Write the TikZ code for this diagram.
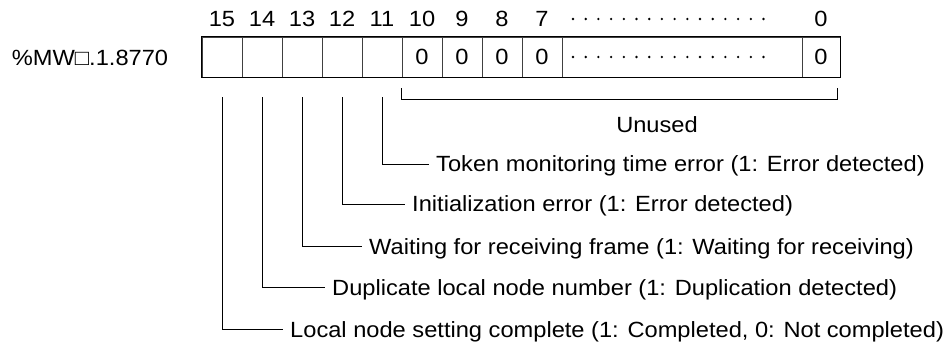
\documentclass[tikz,border=0pt]{standalone}
\usepackage{fontspec}
\setmainfont{Liberation Sans}[FakeStretch=1.075]
\begin{document}
\begin{tikzpicture}[x=1pt,y=-1pt,
  font=\fontsize{22}{26}\selectfont,
  cell/.style={draw=black!75, line width=0.6pt, minimum width=40pt,
    minimum height=40pt, inner sep=0pt, anchor=center},
  frame/.style={draw=black, line width=1pt},
  lead/.style={line width=1pt, line join=miter},
  bitno/.style={inner sep=0pt},
  desc/.style={anchor=west, inner sep=0pt, text height=15.7pt, text depth=0pt},
  ]
\useasboundingbox (0,0) rectangle (949,345);

% register name
\node[bitno] (reg) at (90,58) {\%MW□.1.8770};

% bit cells 15..7
\foreach \b [count=\i from 0] in {15,14,13,12,11,10,9,8,7}{
  \node[cell] (c\b) at (222+40*\i,57) {\ifnum\b<11 0\fi};
  \node[bitno] (n\b) at (222+40*\i,19) {\b};
}
\node[cell, minimum width=240pt] (cdots) at (682,57) {};
\node[cell, minimum width=38pt] (c0) at (821,57) {0};
\node[bitno] (n0) at (821,19) {0};

% outer frame
\draw[frame] (c15.north west) rectangle (c0.south east);

% dotted continuation
\foreach \k in {0,...,15}{
  \fill (573+12.7*\k,19) circle (1.3);
  \fill (573+12.7*\k,57) circle (1.3);
}

% bracket over the unused bits
\coordinate (ul) at ([yshift=-11pt]c10.south west);
\coordinate (ur) at ([xshift=-3pt,yshift=-11pt]c0.south east);
\draw[lead] (ul) -- ++(0,11) -| (ur);
\node[bitno] (unused) at (657,125) {Unused};

% bit descriptions
\node[desc] (d11) at (436,164) {Token monitoring time error (1: Error detected)};
\node[desc] (d12) at (412,204) {Initialization error (1: Error detected)};
\node[desc] (d13) at (369,246.5) {Waiting for receiving frame (1: Waiting for receiving)};
\node[desc] (d14) at (332,287.5) {Duplicate local node number (1: Duplication detected)};
\node[desc] (d15) at (290,329.3) {Local node setting complete (1: Completed, 0: Not completed)};

\foreach \b in {11,12,13,14,15}{
  \draw[lead] ([yshift=-20pt]c\b.south) |- ([xshift=-7pt]d\b.west);
}
\end{tikzpicture}
\end{document}
